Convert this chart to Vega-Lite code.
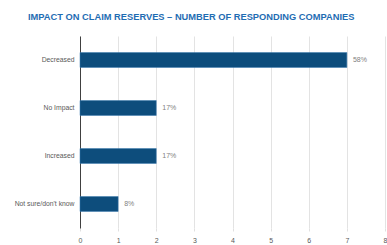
{
  "$schema": "https://vega.github.io/schema/vega-lite/v6.json",
  "width": 305,
  "height": 192,
  "autosize": "none",
  "padding": {"left": 80, "top": 36, "right": 2, "bottom": 17},
  "background": "white",
  "title": {
    "text": "IMPACT ON CLAIM RESERVES – NUMBER OF RESPONDING COMPANIES",
    "anchor": "start",
    "frame": "group",
    "dx": -52,
    "offset": 14,
    "font": "Liberation Sans",
    "fontSize": 9.3,
    "fontWeight": "bold",
    "color": "#1f6db3"
  },
  "data": {
    "values": [
      {"response": "Decreased", "companies": 7, "pct": "58%"},
      {"response": "No Impact", "companies": 2, "pct": "17%"},
      {"response": "Increased", "companies": 2, "pct": "17%"},
      {"response": "Not sure/don't know", "companies": 1, "pct": "8%"}
    ]
  },
  "encoding": {
    "y": {
      "field": "response",
      "type": "nominal",
      "sort": null,
      "scale": {"paddingInner": 0.69, "paddingOuter": 0.345},
      "axis": {
        "title": null,
        "ticks": false,
        "labelPadding": 6,
        "labelFont": "Liberation Sans",
        "labelFontSize": 6.8,
        "labelColor": "#595959",
        "domainColor": "#404040",
        "domainWidth": 1,
        "grid": false
      }
    },
    "x": {
      "field": "companies",
      "type": "quantitative",
      "scale": {"domain": [0, 8]},
      "axis": {
        "title": null,
        "values": [0, 1, 2, 3, 4, 5, 6, 7, 8],
        "labelOverlap": false,
        "labelFlush": false,
        "domain": false,
        "ticks": true,
        "tickColor": "#e0e0e0",
        "tickSize": 3,
        "labelPadding": 5,
        "labelFont": "Liberation Sans",
        "labelFontSize": 7,
        "labelColor": "#595959",
        "gridColor": "#e3e3e3",
        "gridWidth": 1
      }
    }
  },
  "layer": [
    {
      "mark": {"type": "bar", "color": "#0d4d7c", "stroke": "#3a7bb0", "strokeWidth": 0.5}
    },
    {
      "mark": {
        "type": "text",
        "align": "left",
        "dx": 6,
        "font": "Liberation Sans",
        "fontSize": 7,
        "color": "#7f7f7f"
      },
      "encoding": {"text": {"field": "pct"}}
    }
  ],
  "config": {"view": {"stroke": null}}
}
